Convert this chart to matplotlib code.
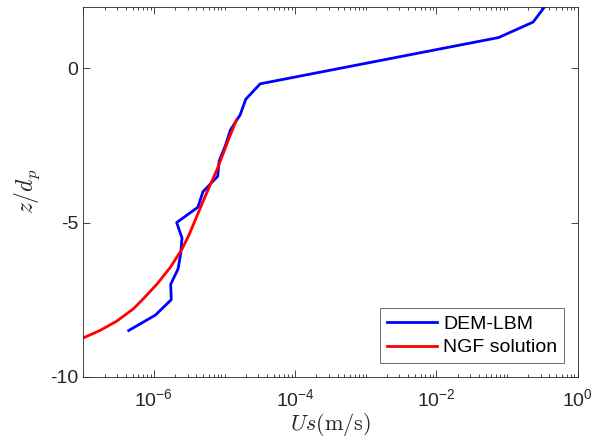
import numpy as np
import matplotlib
matplotlib.use("Agg")
import matplotlib.pyplot as plt
from matplotlib.ticker import FixedLocator, LogFormatterMathtext, NullFormatter

plt.rcParams['font.family'] = ['Liberation Sans', 'DejaVu Sans']
plt.rcParams['mathtext.fontset'] = 'cm'

# DEM-LBM profile
dem_us = [4.4e-7, 1.05e-6, 1.76e-6, 1.73e-6, 2.2e-6, 2.4e-6, 2.5e-6, 2.1e-6, 4.2e-6,
          4.95e-6, 8.0e-6, 8.4e-6, 1.03e-5, 1.21e-5, 1.67e-5, 2.0e-5, 3.2e-5,
          0.076, 0.234, 0.342]
dem_z = [-8.5, -8.0, -7.5, -7.0, -6.5, -6.0, -5.5, -5.0, -4.5,
         -4.0, -3.5, -3.0, -2.5, -2.0, -1.5, -1.0, -0.5,
         1.0, 1.5, 2.0]

# NGF solution
ngf_us = [1.0e-7, 1.72e-7, 2.96e-7, 5.1e-7, 7.02e-7, 1.11e-6, 1.71e-6, 2.50e-6,
          3.10e-6, 5.35e-6, 7.83e-6, 1.14e-5, 1.47e-5]
ngf_z = [-8.74, -8.50, -8.20, -7.80, -7.48, -6.99, -6.45, -5.86,
         -5.43, -4.14, -3.28, -2.31, -1.68]

xticks = [1e-6, 1e-4, 1e-2, 1e0]
yticks = [-10, -5, 0]

fig = plt.figure(figsize=(5.97, 4.48), dpi=100)
ax = fig.add_axes([0.1395, 0.159, 0.828, 0.826])

ax.plot(dem_us, dem_z, color='#0000ff', lw=2, label='DEM-LBM')
ax.plot(ngf_us, ngf_z, color='#ff0000', lw=2, label='NGF solution')

ax.set_xscale('log')
ax.set_xlim(1e-7, 1)
ax.set_ylim(-10, 2)

ax.xaxis.set_major_locator(FixedLocator(xticks))
ax.xaxis.set_major_formatter(LogFormatterMathtext())
minor = [m * 10.0**e for e in range(-7, 0) for m in range(1, 10)]
ax.xaxis.set_minor_locator(FixedLocator(minor))
ax.xaxis.set_minor_formatter(NullFormatter())
ax.set_yticks(yticks)
ax.set_yticklabels([str(t) for t in yticks])

ax.tick_params(which='both', direction='in', top=True, right=True,
               colors='#262626', labelsize=14, width=0.6)
ax.tick_params(which='major', length=5)
ax.tick_params(which='minor', length=2.5)
ax.tick_params(axis='x', pad=8)
for s in ax.spines.values():
    s.set_color('#262626')
    s.set_linewidth(0.6)

ax.set_xlabel(r'$Us(\mathrm{m/s})$', fontsize=16, color='#262626', labelpad=1)
ax.set_ylabel(r'$z/d_p$', fontsize=17, color='#262626', labelpad=6)

leg = ax.legend(loc='lower right', fontsize=14, frameon=True, fancybox=False,
                edgecolor='#262626', handlelength=2.6, borderpad=0.35,
                labelspacing=0.3, handletextpad=0.3, borderaxespad=0.7)
leg.get_frame().set_linewidth(0.6)

fig.savefig('out.png', dpi=100)
